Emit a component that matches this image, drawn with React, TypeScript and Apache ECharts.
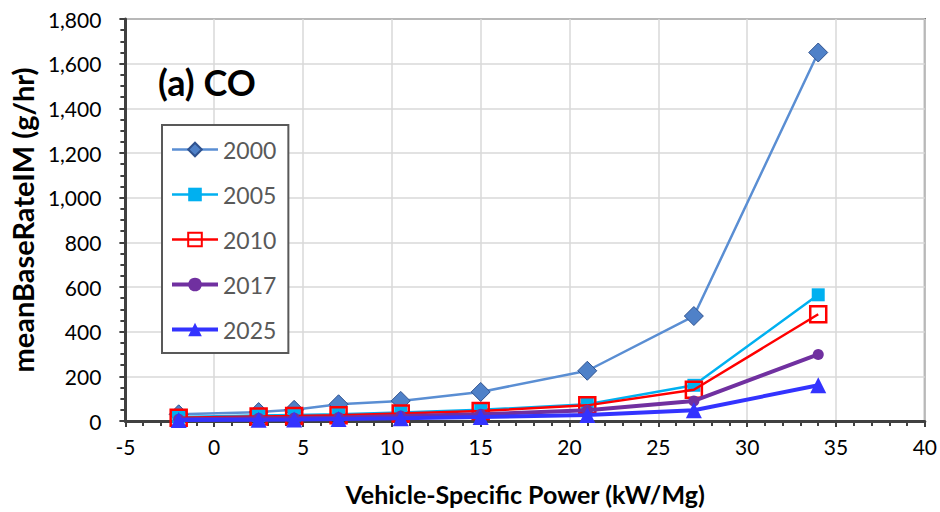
import React, { useEffect, useRef } from "react";
import * as echarts from "echarts";

const vsp = [-2, 2.5, 4.5, 7, 10.5, 15, 21, 27, 34];
const y2000 = [30, 40, 50, 75, 90, 130, 225, 470, 1650];
const y2005 = [18, 25, 27, 30, 38, 50, 75, 160, 565];
const y2010 = [14, 20, 22, 26, 34, 45, 70, 140, 478];
const y2017 = [8, 12, 13, 16, 22, 30, 48, 90, 298];
const y2025 = [4, 6, 7, 9, 12, 18, 27, 48, 160];
const seriesNames = ["2000", "2005", "2010", "2017", "2025"];

const FONT = "Lato, 'Open Sans', sans-serif";

function pairs(ys: number[]) {
  return ys.map((v, i) => [vsp[i], v]);
}

export default function App() {
  const ref = useRef<HTMLDivElement>(null);
  useEffect(() => {
    if (!ref.current) return;
    const chart = echarts.init(ref.current, undefined, { renderer: "svg" });
    const styles = [
      { data: y2000, color: "#5A8ED3", width: 2.5, symbol: "diamond", size: 19, item: { color: "#4F81C8", borderColor: "#2F528F", borderWidth: 1 } },
      { data: y2005, color: "#00B0F0", width: 2.5, symbol: "rect", size: 13, item: { color: "#00B0F0" } },
      { data: y2010, color: "#FF0000", width: 2.5, symbol: "rect", size: 16, item: { color: "rgba(255,255,255,0)", borderColor: "#FF0000", borderWidth: 2.5 } },
      { data: y2017, color: "#7030A0", width: 4, symbol: "circle", size: 11, item: { color: "#7030A0" } },
      { data: y2025, color: "#3333FF", width: 4, symbol: "triangle", size: 16, item: { color: "#3333FF" } },
    ];
    chart.setOption({
      animation: false,
      backgroundColor: "#ffffff",
      grid: {
        left: 125,
        right: 14,
        top: 19,
        bottom: 91,
        show: true,
        borderColor: "#595959",
        borderWidth: 2,
      },
      title: {
        text: "(a) CO",
        left: 153,
        top: 59,
        textStyle: { fontFamily: FONT, fontSize: 36, fontWeight: "bold", color: "#000" },
      },
      legend: {
        orient: "vertical",
        left: 162,
        top: 125,
        width: 125,
        padding: [13, 12, 12, 8],
        itemGap: 22,
        itemWidth: 46,
        itemHeight: 17,
        borderColor: "#595959",
        borderWidth: 2,
        backgroundColor: "#fff",
        textStyle: { fontFamily: FONT, fontSize: 23, color: "#595959" },
        data: seriesNames.map((n, i) => ({
          name: n,
          lineStyle: { width: styles[i].width, color: styles[i].color },
        })),
      },
      xAxis: {
        type: "value",
        min: -5,
        max: 40,
        interval: 5,
        name: "Vehicle-Specific Power (kW/Mg)",
        nameLocation: "middle",
        nameGap: 60,
        nameTextStyle: { fontFamily: FONT, fontSize: 25, fontWeight: "bold", color: "#000" },
        axisLine: { show: true, onZero: false, lineStyle: { color: "#404040", width: 3 } },
        axisTick: { show: true, length: 6, lineStyle: { color: "#404040", width: 2 } },
        minorTick: { show: true, splitNumber: 5, length: 5, lineStyle: { color: "#404040", width: 2 } },
        axisLabel: { fontFamily: FONT, fontSize: 21, color: "#000", margin: 15 },
        splitLine: { show: true, lineStyle: { color: "#D9D9D9", width: 1.5 } },
      },
      yAxis: {
        type: "value",
        min: 0,
        max: 1800,
        interval: 200,
        name: "meanBaseRateIM (g/hr)",
        nameLocation: "middle",
        nameGap: 82,
        nameTextStyle: { fontFamily: FONT, fontSize: 29, fontWeight: "bold", color: "#000" },
        axisLine: { show: true, onZero: false, lineStyle: { color: "#404040", width: 3 } },
        axisTick: { show: true, length: 6, lineStyle: { color: "#404040", width: 2 } },
        minorTick: { show: true, splitNumber: 4, length: 5, lineStyle: { color: "#404040", width: 2 } },
        axisLabel: {
          fontFamily: FONT,
          fontSize: 21,
          color: "#000",
          margin: 24,
          formatter: (v: number) => v.toLocaleString("en-US"),
        },
        splitLine: { show: true, lineStyle: { color: "#D9D9D9", width: 1.5 } },
      },
      series: styles.map((s, i) => ({
        name: seriesNames[i],
        type: "line",
        data: pairs(s.data),
        symbol: s.symbol,
        symbolSize: s.size,
        showSymbol: true,
        lineStyle: { color: s.color, width: s.width },
        itemStyle: s.item,
        color: s.color,
        z: 2 + i,
      })),
    });
    return () => chart.dispose();
  }, []);
  return <div ref={ref} style={{ width: 940, height: 512, position: "absolute", left: 0, top: 0 }} />;
}
